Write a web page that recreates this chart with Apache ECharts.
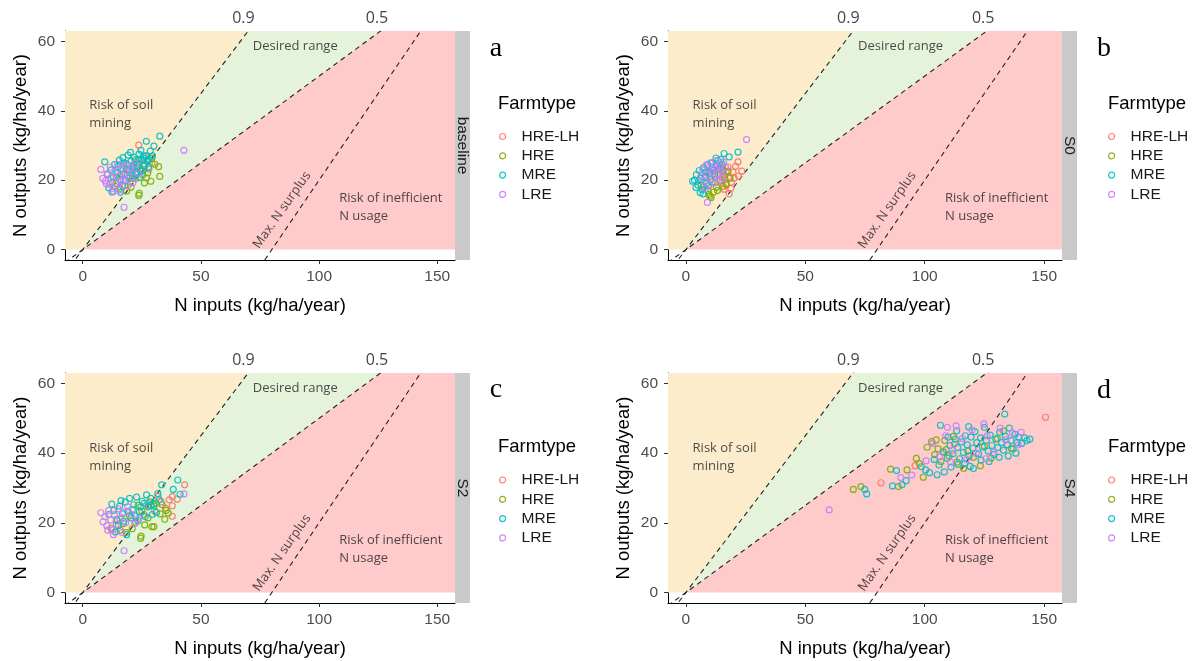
<!DOCTYPE html>
<html>
<head>
<meta charset="utf-8">
<script src="https://cdn.jsdelivr.net/npm/echarts@6/dist/echarts.min.js"></script>
<style>
  html, body { margin: 0; padding: 0; background: #fff; }
  #main { width: 1195px; height: 661px; }
</style>
</head>
<body>
<div id="main"></div>
<script>
// farm types, scenarios and ticks
var farmTypes = ['HRE-LH', 'HRE', 'MRE', 'LRE'];
var typeColors = ['#F8766D', '#7CAE00', '#00BFC4', '#C77CFF'];
var scenarios = ['baseline', 'S0', 'S2', 'S4'];
var panelLetters = ['a', 'b', 'c', 'd'];
var xTicks = [0, 50, 100, 150];
var yTicks = [0, 20, 40, 60];
var nueLines = [0.9, 0.5];
var nueLabels = ['0.9', '0.5'];
var nueLabelX = [68, 124.5];
var maxSurplus = 80;

// N inputs / N outputs per farm
var baseline_HRELH = [[23.7,30.1],[29.3,25.0],[26.5,26.8],[21.5,23.5],[19.8,21.2],[24.8,22.6],[17.5,24.2],[28.0,23.2],[22.4,20.4],[26.0,24.8]];
var baseline_HRE = [[23.7,15.6],[23.9,16.2],[32.1,23.9],[32.6,21.1],[28.8,19.7],[26.1,19.2],[25.4,21.6],[21.0,20.5],[17.8,18.4],[15.6,17.6],[19.2,22.8],[23.0,23.8],[27.5,22.1],[30.5,24.6],[14.2,20.8],[12.6,19.4],[20.4,18.0],[25.8,24.2],[29.2,26.3],[16.4,21.7],[22.2,25.9],[13.8,18.2],[18.6,16.9],[27.0,20.7]];
var baseline_MRE = [[32.6,32.7],[26.9,31.2],[30.1,29.8],[9.3,25.3],[12.0,23.0],[13.5,24.5],[14.8,22.1],[15.5,25.8],[16.2,23.4],[17.0,26.5],[17.8,21.9],[18.5,24.7],[19.2,27.2],[19.9,22.8],[20.5,25.5],[21.2,23.9],[21.8,26.6],[22.5,21.7],[23.1,24.9],[23.8,27.5],[24.4,23.0],[25.0,25.8],[25.6,26.9],[26.2,24.1],[26.8,27.1],[27.4,25.4],[28.0,26.0],[13.0,21.0],[14.2,19.0],[15.8,20.2],[16.9,18.4],[18.1,19.8],[11.0,17.8],[12.4,16.6],[19.6,20.6],[21.0,21.3],[22.8,22.4],[24.0,20.8],[25.5,22.7],[27.8,23.7],[28.6,28.4],[29.5,27.0],[17.4,25.0],[20.2,28.0],[23.4,26.0],[16.0,16.5],[10.4,21.6],[24.6,28.6],[26.0,26.2],[21.6,24.6],[18.8,23.1],[15.0,23.9]];
var baseline_LRE = [[42.8,28.6],[17.5,12.2],[7.7,23.1],[8.5,20.5],[9.6,19.8],[10.4,21.9],[11.2,18.8],[12.0,20.7],[12.8,17.6],[13.6,22.3],[14.2,19.1],[15.0,21.0],[15.8,17.2],[16.6,23.4],[17.2,20.0],[18.0,22.0],[18.8,24.3],[19.6,21.5],[20.4,23.6],[21.2,19.3],[22.4,24.8],[23.4,22.0],[14.8,24.6],[11.6,23.8],[13.0,16.8],[16.2,19.6],[19.0,18.4],[10.0,19.0]];

var s0_HRELH = [[21.8,25.3],[23.4,22.6],[19.7,22.3],[18.1,16.1],[13.5,21.5],[14.8,19.2],[15.6,22.8],[16.3,20.4],[17.0,18.6],[17.6,23.8],[18.4,21.0],[19.0,19.4],[20.2,20.6],[16.0,17.4],[14.2,23.6],[20.8,24.0],[22.0,21.2],[18.8,17.6],[15.2,20.9],[16.8,22.4]];
var s0_HRE = [[10.1,15.4],[9.6,15.9],[10.6,15.0],[7.6,18.2],[8.4,20.8],[9.2,17.0],[10.0,22.5],[11.0,19.5],[12.0,21.8],[12.8,18.0],[13.6,23.2],[14.4,20.0],[15.2,24.0],[16.0,21.5],[16.8,19.0],[17.6,22.6],[18.4,20.5],[11.6,16.6],[13.2,17.0],[15.6,18.2],[6.4,18.6]];
var s0_MRE = [[16.0,27.7],[21.8,28.1],[18.1,26.7],[2.8,19.7],[3.6,20.0],[4.4,21.6],[5.0,18.6],[5.6,22.8],[6.2,20.5],[6.8,17.3],[7.4,23.6],[8.0,21.2],[8.6,19.0],[9.2,24.4],[9.8,22.0],[10.4,20.2],[11.0,25.0],[11.6,22.9],[12.2,21.0],[12.8,24.2],[13.4,25.6],[14.0,23.4],[14.6,26.0],[15.2,24.6],[6.0,16.4],[7.2,16.0],[5.4,19.9],[8.4,22.4],[10.8,23.5],[12.6,26.4],[4.2,17.9],[9.4,18.4]];
var s0_LRE = [[25.4,31.7],[9.0,13.6],[6.2,21.0],[7.0,23.0],[7.8,19.8],[8.6,24.4],[9.4,21.6],[10.2,25.0],[11.0,20.4],[11.8,23.2],[12.6,25.6],[13.4,21.8],[14.2,24.2],[15.0,22.4],[15.8,25.2],[16.6,23.6],[9.8,18.6],[12.2,19.2],[14.0,19.9],[10.6,22.4],[8.2,17.6],[13.0,23.8],[15.4,20.6]];

var s2_HRELH = [[43.1,30.9],[37.9,27.5],[37.9,24.9],[37.9,21.9],[36.6,26.6],[33.2,26.0],[30.4,23.4],[27.8,25.0],[35.0,24.2],[31.8,27.6],[26.0,22.4],[40.0,26.8]];
var s2_HRE = [[24.5,15.6],[24.7,16.2],[34.7,21.0],[29.3,18.9],[30.1,18.9],[20.9,18.3],[35.4,23.6],[12.0,18.4],[14.6,20.6],[17.2,19.8],[19.8,22.0],[22.4,20.2],[25.0,23.4],[27.6,21.4],[30.2,24.8],[32.8,22.6],[28.4,26.0],[31.0,25.6],[33.6,25.2],[26.2,19.4],[18.4,17.2],[15.8,17.9],[36.2,22.8],[23.4,25.0]];
var s2_MRE = [[40.2,32.3],[33.4,30.9],[38.3,29.6],[41.2,28.2],[12.3,25.4],[11.0,22.4],[13.2,23.6],[14.4,21.0],[15.6,24.8],[16.8,22.6],[18.0,26.0],[19.2,23.4],[20.4,21.4],[21.6,25.2],[22.8,27.4],[24.0,23.2],[25.2,26.2],[26.4,21.8],[27.6,24.6],[28.8,27.0],[30.0,25.4],[31.2,23.0],[32.4,26.6],[29.4,22.4],[27.0,28.0],[23.4,20.6],[19.8,27.0],[17.4,20.4],[15.0,19.2],[13.8,17.4],[18.6,16.6],[24.6,24.6],[26.0,25.6],[21.0,23.8],[29.0,25.0],[31.8,28.4],[22.2,22.0],[16.2,26.4]];
var s2_LRE = [[42.8,28.3],[17.5,12.0],[7.7,22.9],[8.6,20.3],[9.4,21.8],[10.2,19.2],[11.0,23.6],[11.8,20.8],[12.6,18.0],[13.4,22.4],[14.2,19.6],[15.0,24.0],[15.8,21.2],[16.6,17.2],[17.4,23.0],[18.2,20.0],[19.0,24.6],[20.6,22.4],[22.0,19.8],[23.6,21.2],[13.0,16.6],[10.6,17.9]];

var s4_HRELH = [[150.6,50.3],[81.7,31.5],[108.0,40.2],[112.4,42.6],[96.0,36.4]];
var s4_HRE = [[70.1,29.6],[73.3,30.4],[85.7,35.4],[89.0,30.4],[92.6,35.2],[99.4,33.1],[96.5,38.5],[97.8,37.0],[101.0,41.7],[102.9,43.3],[104.2,39.6],[105.6,41.2],[106.8,37.6],[108.4,43.6],[110.2,39.2],[112.0,44.8],[113.6,37.4],[116.3,35.6],[118.0,40.6],[120.4,38.8],[123.3,36.4],[125.0,42.0],[127.8,38.6],[130.4,44.2],[133.0,46.4],[136.2,41.4],[104.8,43.8],[109.0,41.0]];
var s4_MRE = [[74.9,29.6],[75.7,28.3],[88.2,35.0],[86.5,30.6],[90.5,30.9],[92.2,32.1],[98.6,36.1],[100.4,35.2],[102.0,34.4],[106.6,48.0],[133.5,51.2],[144.0,44.0],[120.4,35.6],[104.0,38.2],[106.0,36.6],[107.8,40.4],[109.4,38.6],[110.6,42.2],[111.8,39.8],[112.8,44.0],[113.8,41.6],[114.6,38.4],[115.4,43.2],[116.2,40.2],[117.0,45.0],[117.8,42.4],[118.6,39.2],[119.4,44.6],[120.2,41.4],[121.0,46.2],[121.8,43.0],[122.6,39.8],[123.4,44.4],[124.2,41.8],[125.0,47.4],[125.8,43.6],[126.6,40.6],[127.4,45.2],[128.2,42.2],[129.0,39.6],[129.8,44.0],[130.6,41.6],[131.4,46.0],[132.2,43.0],[133.0,40.8],[133.8,44.8],[134.6,42.4],[135.4,47.2],[136.2,43.6],[137.0,41.2],[137.8,45.4],[138.6,43.0],[139.4,44.6],[140.6,42.8],[141.8,44.4],[142.8,43.6],[116.8,37.0],[119.0,36.2],[114.0,36.8],[111.0,36.0],[108.2,34.6],[105.2,33.8],[123.6,38.0],[127.0,37.6],[131.2,38.8],[135.0,39.2],[138.2,40.0],[118.4,47.6],[113.4,46.4],[109.8,44.6]];
var s4_LRE = [[60.0,23.7],[94.6,33.7],[109.5,47.4],[90.0,33.0],[103.4,42.8],[106.2,39.0],[108.8,45.0],[111.6,40.8],[113.2,47.8],[115.8,44.2],[117.6,38.2],[119.8,46.6],[121.6,40.0],[124.8,48.4],[126.2,45.0],[128.8,40.2],[131.6,47.2],[134.0,43.8],[136.8,45.8],[139.2,42.4],[140.4,46.0],[125.6,38.4],[110.8,37.4],[100.6,37.8]];

var panelData = [
  [baseline_HRELH, baseline_HRE, baseline_MRE, baseline_LRE],
  [s0_HRELH, s0_HRE, s0_MRE, s0_LRE],
  [s2_HRELH, s2_HRE, s2_MRE, s2_LRE],
  [s4_HRELH, s4_HRE, s4_MRE, s4_LRE]
];

// axis limits (0-150 / 0-60 with 5% padding)
var xMin = -7.5, xMax = 157.5, yMin = -3, yMax = 63;

// page layout of the four panels
var layout = [
  { left: 65,  top: 31,  width: 390, height: 229, legendX: 494,  titleX: 498,  titleY: 104, legendY: 122,   letterX: 496,  letterY: 49 },
  { left: 668, top: 31,  width: 394, height: 229, legendX: 1103, titleX: 1108, titleY: 104, legendY: 122,   letterX: 1104, letterY: 49 },
  { left: 65,  top: 373, width: 390, height: 230, legendX: 494,  titleX: 498,  titleY: 447, legendY: 465.5, letterX: 496,  letterY: 389.5 },
  { left: 668, top: 373, width: 394, height: 230, legendX: 1103, titleX: 1108, titleY: 447, legendY: 465.5, letterX: 1104, letterY: 391 }
];

var regions = [
  { color: '#FCECCC', pts: [[xMin, 0], [xMin, yMax], [yMax / nueLines[0], yMax], [0, 0]] },
  { color: '#E5F3DA', pts: [[0, 0], [yMax / nueLines[0], yMax], [yMax / nueLines[1], yMax]] },
  { color: '#FFCACA', pts: [[0, 0], [yMax / nueLines[1], yMax], [xMax, yMax], [xMax, 0]] }
];

var notes = [
  { text: 'Risk of soil\nmining', pos: [2.8, 38.9], position: 'right', rotate: 0 },
  { text: 'Desired range', pos: [89.9, 58.5], position: 'inside', rotate: 0 },
  { text: 'Risk of inefficient\nN usage', pos: [108.5, 12.3], position: 'right', rotate: 0 },
  { text: 'Max. N surplus', pos: [84.3, 11.4], position: 'inside', rotate: 55 }
];

var sans = 'Liberation Sans, Arial, sans-serif';
var calibri = 'Open Sans, Noto Sans, sans-serif';

window.onload = function () {
  var myChart = echarts.init(document.getElementById('main'));

  var grid = [], xAxis = [], yAxis = [], series = [], legend = [], graphic = [];

  layout.forEach(function (p, i) {
    grid.push({ left: p.left, top: p.top, width: p.width, height: p.height, containLabel: false });

    xAxis.push({
      gridIndex: i, type: 'value', min: xMin, max: xMax,
      name: 'N inputs (kg/ha/year)', nameLocation: 'middle', nameGap: 36,
      nameTextStyle: { fontFamily: sans, fontSize: 18.5, color: '#000' },
      axisLine: { onZero: false, lineStyle: { color: '#000', width: 1 } },
      axisTick: { length: 4, lineStyle: { color: '#333' }, customValues: xTicks },
      axisLabel: { margin: 9, fontFamily: sans, fontSize: 15.5, color: '#4D4D4D', customValues: xTicks },
      splitLine: { show: false }
    });
    yAxis.push({
      gridIndex: i, type: 'value', min: yMin, max: yMax,
      name: 'N outputs (kg/ha/year)', nameLocation: 'middle', nameGap: 35,
      nameTextStyle: { fontFamily: sans, fontSize: 18.5, color: '#000' },
      axisLine: { onZero: false, lineStyle: { color: '#000', width: 1 } },
      axisTick: { length: 4, lineStyle: { color: '#333' }, customValues: yTicks },
      axisLabel: { margin: 10, fontFamily: sans, fontSize: 15.5, color: '#4D4D4D', customValues: yTicks },
      splitLine: { show: false }
    });

    // shaded NUE zones
    series.push({
      type: 'custom', xAxisIndex: i, yAxisIndex: i, silent: true, clip: true, z: 1,
      data: regions.map(function (r, k) { return [k, 0]; }),
      renderItem: function (params, api) {
        var r = regions[params.dataIndex];
        return {
          type: 'polygon',
          shape: { points: r.pts.map(function (pt) { return api.coord(pt); }) },
          style: { fill: r.color }
        };
      }
    });

    // dashed NUE lines and max surplus line
    nueLines.forEach(function (s) {
      series.push({
        type: 'line', xAxisIndex: i, yAxisIndex: i, silent: true, clip: true, z: 2,
        symbol: 'none', data: [[xMin, s * xMin], [xMax, s * xMax]],
        lineStyle: { color: '#222', width: 1.1, type: [5, 4] }
      });
    });
    series.push({
      type: 'line', xAxisIndex: i, yAxisIndex: i, silent: true, clip: true, z: 2,
      symbol: 'none', data: [[yMin + maxSurplus, yMin], [yMax + maxSurplus, yMax]],
      lineStyle: { color: '#222', width: 1.1, type: [5, 4] }
    });

    // zone texts
    series.push({
      type: 'scatter', xAxisIndex: i, yAxisIndex: i, silent: true, clip: false, z: 3,
      symbolSize: 0,
      data: notes.map(function (n) {
        return {
          value: n.pos,
          label: {
            show: true, formatter: n.text, position: n.position, distance: 0, rotate: n.rotate,
            fontFamily: calibri, fontSize: 13, lineHeight: 18, color: '#222', align: n.position === 'right' ? 'left' : 'center'
          }
        };
      })
    });
    // NUE labels above the panel
    series.push({
      type: 'scatter', xAxisIndex: i, yAxisIndex: i, silent: true, clip: false, z: 3,
      symbolSize: 0,
      data: nueLabels.map(function (t, k) {
        return {
          value: [nueLabelX[k], yMax],
          label: { show: true, formatter: t, position: 'top', distance: 5, fontFamily: calibri, fontSize: 16, color: '#111' }
        };
      })
    });

    // farms
    farmTypes.forEach(function (ft, k) {
      series.push({
        name: ft, type: 'scatter', xAxisIndex: i, yAxisIndex: i, z: 4,
        symbol: 'circle', symbolSize: 6,
        itemStyle: { color: 'rgba(0,0,0,0)', borderColor: typeColors[k], borderWidth: 1.2, opacity: 0.9 },
        data: panelData[i][k]
      });
    });

    legend.push({
      orient: 'vertical', left: p.legendX, top: p.legendY,
      itemWidth: 28, itemHeight: 6, itemGap: 0.3, selectedMode: false,
      textStyle: { fontFamily: sans, fontSize: 15.5, color: '#1A1A1A', lineHeight: 19 },
      data: farmTypes.map(function (ft, k) {
        return { name: ft, icon: 'circle', itemStyle: { color: 'rgba(0,0,0,0)', borderColor: typeColors[k], borderWidth: 1.2 } };
      })
    });

    // facet strip
    graphic.push({
      type: 'rect', left: p.left + p.width, top: p.top, silent: true,
      shape: { width: 15, height: p.height }, style: { fill: '#C9C9C9' }
    });
    graphic.push({
      type: 'text', x: p.left + p.width + 7.5, y: p.top + p.height / 2, rotation: -Math.PI / 2, silent: true,
      style: { text: scenarios[i], fill: '#1A1A1A', font: '15.5px ' + sans, align: 'center', verticalAlign: 'middle' }
    });
    // legend title and panel letter
    graphic.push({
      type: 'text', x: p.titleX, y: p.titleY, silent: true,
      style: { text: 'Farmtype', fill: '#000', font: '18.5px ' + sans, align: 'left', verticalAlign: 'middle' }
    });
    graphic.push({
      type: 'text', x: p.letterX, y: p.letterY, silent: true,
      style: { text: panelLetters[i], fill: '#000', font: '28px Liberation Serif, serif', align: 'center', verticalAlign: 'middle' }
    });
  });

  var option = {
    animation: false,
    backgroundColor: '#fff',
    grid: grid,
    xAxis: xAxis,
    yAxis: yAxis,
    legend: legend,
    graphic: graphic,
    series: series
  };

  myChart.setOption(option);
};
</script>
</body>
</html>
